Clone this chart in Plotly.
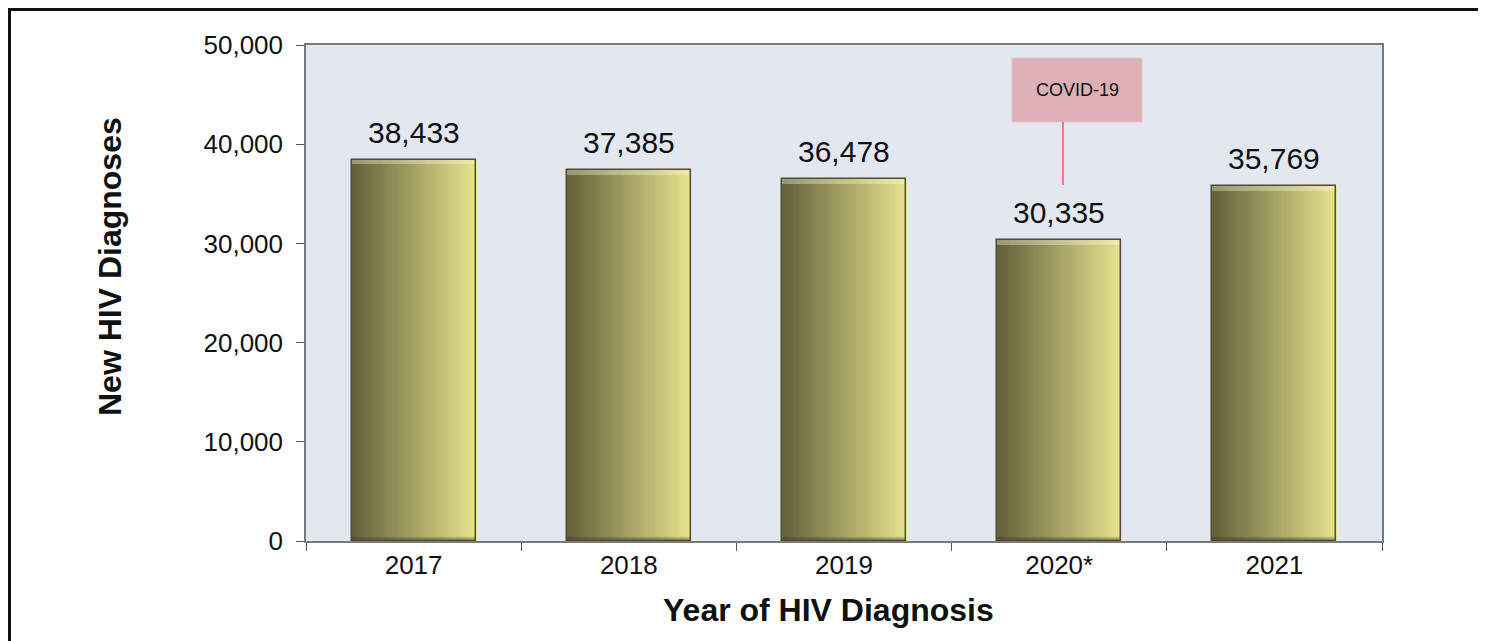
import plotly.graph_objects as go

years = ["2017", "2018", "2019", "2020*", "2021"]
diagnoses = [38433, 37385, 36478, 30335, 35769]
bar_labels = ["38,433", "37,385", "36,478", "30,335", "35,769"]

# the page body has an 8px margin, so screen positions are shifted by 8
OFF = 8
W, H = 1486 - OFF, 641 - OFF
# plot area in screen pixels (from the reference)
L, R, T, B = 306, 1382, 45, 541
pw, ph = R - L, B - T


def px_x(x):
    return (x - L) / pw


def px_y(y):
    return (B - y) / ph


fig = go.Figure()

# gradient bars: many thin slices from dark olive to pale yellow
bar_w = 0.576
n_slices = 40
left_rgb = (100, 98, 60)
right_rgb = (230, 226, 142)
step = bar_w / n_slices
for i in range(n_slices):
    t = i / (n_slices - 1)
    c = tuple(int(left_rgb[k] + (right_rgb[k] - left_rgb[k]) * t) for k in range(3))
    fig.add_trace(go.Bar(
        x=years, y=diagnoses,
        width=step * 1.3, offset=-bar_w / 2 + i * step,
        marker=dict(color="rgb(%d,%d,%d)" % c, line=dict(width=0)),
        hoverinfo="skip", showlegend=False,
    ))

# bevel: light band at the top, shadow at the bottom
band = 450
fig.add_trace(go.Bar(
    x=years, y=[band] * len(years), base=[v - band for v in diagnoses],
    width=bar_w, offset=-bar_w / 2,
    marker=dict(color="rgba(255,255,220,0.35)", line=dict(width=0)),
    hoverinfo="skip", showlegend=False,
))
fig.add_trace(go.Bar(
    x=years, y=[band] * len(years), base=[0] * len(years),
    width=bar_w, offset=-bar_w / 2,
    marker=dict(color="rgba(40,40,20,0.25)", line=dict(width=0)),
    hoverinfo="skip", showlegend=False,
))

# outline
fig.add_trace(go.Bar(
    x=years, y=diagnoses, width=bar_w, offset=-bar_w / 2,
    marker=dict(color="rgba(0,0,0,0)", line=dict(color="#4f4e30", width=1.5)),
    showlegend=False,
))

for i, (v, lab) in enumerate(zip(diagnoses, bar_labels)):
    fig.add_annotation(x=i, y=v, text=lab, showarrow=False, yanchor="bottom",
                       yshift=9, font=dict(size=30, color="#111111"))

# COVID-19 callout
fig.add_shape(type="rect", xref="paper", yref="paper",
              x0=px_x(1012), x1=px_x(1142), y0=px_y(122), y1=px_y(58),
              fillcolor="#dcb0b6", line=dict(color="#e6c4c8", width=1))
fig.add_shape(type="line", xref="paper", yref="paper",
              x0=px_x(1063), x1=px_x(1063), y0=px_y(185), y1=px_y(122),
              line=dict(color="#f05a5a", width=1.5))
fig.add_annotation(xref="paper", yref="paper", x=px_x(1077), y=px_y(90),
                   xanchor="center", yanchor="middle",
                   text="COVID-19", showarrow=False,
                   font=dict(size=18, color="#111111"))

# axis titles
fig.add_annotation(xref="paper", yref="paper", x=px_x(828), y=px_y(610),
                   xanchor="center", yanchor="middle",
                   text="<b>Year of HIV Diagnosis</b>", showarrow=False,
                   font=dict(size=32, color="#111111"))
fig.add_annotation(xref="paper", yref="paper", x=px_x(110), y=px_y(267),
                   xanchor="center", yanchor="middle",
                   text="<b>New HIV Diagnoses</b>", showarrow=False, textangle=-90,
                   font=dict(size=32, color="#111111"))

# outer frame (as close to the page edge as the body margin allows)
fig.add_shape(type="rect", xref="paper", yref="paper",
              x0=px_x(9.5), x1=px_x(1484), y0=px_y(700), y1=px_y(9.5),
              line=dict(color="#111111", width=3), fillcolor="rgba(0,0,0,0)")

fig.update_layout(
    width=W, height=H,
    margin=dict(l=L - OFF, r=W - (R - OFF), t=T - OFF, b=H - (B - OFF)),
    barmode="overlay",
    bargap=0,
    paper_bgcolor="white",
    plot_bgcolor="#e3e7f0",
    font=dict(family="Liberation Sans, Arial, sans-serif", color="#111111"),
    xaxis=dict(
        type="category", range=[-0.5, 4.5], showgrid=False, showline=True,
        linecolor="#7a7a7a", linewidth=1.5, mirror=True, ticks="outside",
        tickson="boundaries", ticklen=8, tickcolor="#555555",
        tickfont=dict(size=26), tickangle=0,
    ),
    yaxis=dict(
        range=[0, 50000], dtick=10000, tickformat=",", showgrid=False,
        zeroline=False, showline=True, linecolor="#7a7a7a", linewidth=1.5,
        mirror=True, ticks="outside", ticklen=8, tickcolor="#555555",
        tickfont=dict(size=26), ticklabelstandoff=8,
    ),
)

fig.write_html("out.html")
